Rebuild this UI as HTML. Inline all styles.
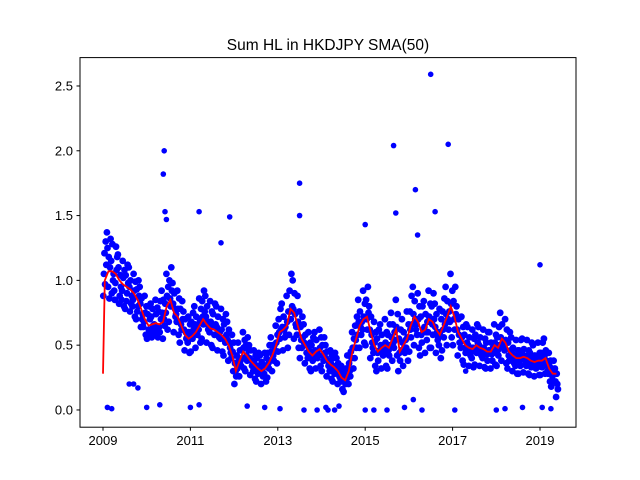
<!DOCTYPE html>
<html><head><meta charset="utf-8"><style>
html,body{margin:0;padding:0;background:#fff;}
svg{display:block;font-family:"Liberation Sans","DejaVu Sans",sans-serif;}
</style></head><body>
<svg id="chart" width="640" height="480">
<rect width="640" height="480" fill="#fff"/>
<text x="328" y="50" text-anchor="middle" font-size="15.5">Sum HL in HKDJPY SMA(50)</text>
<g id="plot"></g>
</svg>
<script>
const startYear = 2009;
const xTicks = [2009, 2011, 2013, 2015, 2017, 2019];
const yTicks = [0.0, 0.5, 1.0, 1.5, 2.0, 2.5];
const smaStart = 0.28;
const smaValues = [1.0,1.07,1.07,1.05,1.0,0.97,0.95,0.93,0.9,0.85,0.78,0.7,
0.65,0.66,0.67,0.66,0.68,0.8,0.85,0.75,0.72,0.65,0.58,0.55,
0.57,0.6,0.65,0.7,0.66,0.63,0.62,0.6,0.58,0.55,0.5,0.42,
0.3,0.38,0.45,0.42,0.38,0.35,0.32,0.3,0.32,0.36,0.42,0.5,
0.6,0.62,0.65,0.78,0.75,0.65,0.55,0.5,0.45,0.42,0.45,0.47,
0.43,0.38,0.35,0.33,0.3,0.25,0.23,0.3,0.45,0.55,0.65,0.7,
0.72,0.6,0.5,0.45,0.48,0.5,0.48,0.55,0.62,0.45,0.5,0.55,
0.65,0.72,0.68,0.6,0.62,0.7,0.68,0.62,0.58,0.65,0.72,0.8,
0.72,0.6,0.55,0.5,0.48,0.47,0.5,0.48,0.47,0.45,0.45,0.5,
0.48,0.55,0.52,0.45,0.42,0.4,0.4,0.41,0.4,0.38,0.37,0.38,
0.38,0.4,0.32,0.28,0.28];
const monthlyPoints = [
[88,112,130,97,121,105],[95,125,137,110,86,118],[100,128,90,115,132,105],[92,118,108,126,98,85],[82,110,120,95,104,88],[80,102,115,92,85,108],[78,98,112,90,84,104],[76,95,110,88,82,100],[72,92,105,85,80,99],[70,88,100,80,76,93],[64,82,95,74,70,86],[58,75,88,68,64,80],
[55,70,80,62,58,74],[56,72,82,60,65,78],[58,74,85,62,66,79],[56,70,84,60,64,76],[55,75,92,65,70,85],[62,88,105,75,82,95],[68,92,110,80,86,100],[60,82,98,72,78,90],[58,78,92,68,74,86],[52,70,84,62,66,78],[46,62,76,55,60,70],[44,60,72,52,56,66],
[45,62,75,55,58,68],[48,66,80,58,62,72],[52,70,86,62,66,78],[55,76,92,66,72,84],[52,72,88,62,68,80],[50,68,84,60,64,76],[48,66,82,58,64,74],[46,64,80,56,62,72],[45,62,78,55,60,70],[42,58,74,52,56,66],[38,54,68,48,52,62],[30,45,58,40,44,52],
[20,32,42,26,30,36],[26,40,52,34,38,46],[32,48,60,40,46,54],[30,46,56,38,42,50],[27,40,50,34,38,46],[24,36,46,30,34,42],[22,34,44,28,32,40],[20,32,42,26,30,37],[22,34,44,28,33,40],[25,38,50,32,36,44],[30,45,56,38,42,50],[36,52,65,46,50,58],
[45,62,78,55,60,70],[46,64,82,56,62,72],[48,68,88,58,64,76],[58,80,105,70,76,92],[55,78,100,66,74,90],[48,68,88,58,64,76],[40,56,72,48,54,64],[36,52,66,44,50,58],[32,46,60,40,44,52],[30,44,56,38,42,50],[32,46,60,40,44,54],[34,48,62,42,46,56],
[30,44,56,38,42,50],[26,40,50,34,38,45],[24,36,46,30,34,42],[22,34,44,28,32,40],[20,30,40,26,30,36],[16,26,34,22,25,30],[14,24,32,20,23,28],[20,32,42,26,30,36],[32,48,60,40,45,55],[40,58,72,48,54,65],[48,68,85,58,64,76],[52,72,92,62,68,82],
[50,75,95,62,70,85],[40,62,80,52,58,72],[34,52,68,44,48,60],[30,46,62,38,44,55],[32,50,66,42,46,58],[34,52,70,44,48,60],[32,50,66,42,46,58],[38,56,75,48,52,66],[42,64,85,54,60,74],[30,46,62,38,44,55],[34,52,70,44,48,60],[38,56,76,48,54,66],
[45,66,88,56,62,76],[50,74,95,62,70,84],[48,70,90,58,66,80],[42,62,80,52,58,72],[44,64,84,54,60,74],[48,72,92,60,68,82],[48,70,90,58,66,80],[44,64,82,54,60,74],[40,60,78,50,56,70],[46,66,86,56,62,76],[50,74,95,62,70,84],[56,82,105,68,76,92],
[50,74,95,62,70,84],[42,62,80,52,58,70],[38,56,72,48,52,64],[35,52,66,44,48,58],[34,50,64,42,46,56],[33,48,62,40,45,55],[35,52,66,44,48,58],[34,50,64,42,46,56],[33,48,62,40,45,55],[32,46,60,38,43,52],[32,46,60,38,43,52],[35,52,66,44,48,58],
[34,50,64,42,46,56],[38,56,75,48,52,66],[36,54,70,46,50,62],[32,46,60,38,42,52],[30,44,56,36,40,48],[28,42,54,34,38,46],[28,42,54,34,38,46],[29,43,55,35,39,47],[28,42,54,34,38,46],[27,40,52,33,36,44],[26,38,50,32,35,42],[27,40,52,33,36,44],
[27,40,52,33,36,44],[28,42,55,34,38,46],[22,34,44,28,30,38],[18,28,38,22,26,32],[10,22,32,16,20,28]];
const outlierDates = [2009.1,2009.2,2009.7,2009.8,2010.0,2010.4,2010.38,2010.42,2010.45,2011.0,2011.2,2011.2,2011.7,2011.9,2012.7,2013.05,2013.5,2013.5,2013.6,2013.9,2014.1,2014.4,2015.0,2015.0,2015.2,2015.7,2015.65,2015.9,2016.15,2016.2,2016.5,2016.6,2016.9,2017.05,2017.3,2018.0,2018.2,2019.0,2019.05,2019.25,2018.6,2015.5,2016.1,2016.3,2012.3,2014.3,2014.15,2009.6,2010.3];
const outlierValues = [0.02,0.01,0.2,0.17,0.02,2.0,1.82,1.53,1.47,0.02,1.53,0.04,1.29,1.49,0.02,0.01,1.75,1.5,0.0,0.0,0.02,0.03,1.43,0.0,0.0,1.52,2.04,0.02,1.7,1.35,2.59,1.53,2.05,0.0,0.3,0.0,0.01,1.12,0.02,0.01,0.02,0.0,0.08,0.0,0.03,0.0,0.0,0.2,0.04];

const L=80,R=576,T=57.6,B=427.2;
const xMin=2008.474,xMax=2019.824,yMin=-0.133,yMax=2.719;
const xs=v=>L+(v-xMin)/(xMax-xMin)*(R-L);
const ys=v=>B-(v-yMin)/(yMax-yMin)*(B-T);
const NS="http://www.w3.org/2000/svg";
const plot=document.getElementById('plot');
function mk(tag,attrs,parent){const e=document.createElementNS(NS,tag);for(const k in attrs)e.setAttribute(k,attrs[k]);(parent||plot).appendChild(e);return e;}

const dots=mk('g',{fill:'#0000ff'});


monthlyPoints.forEach((vals,m)=>{
  const n=vals.length;
  vals.forEach((v,i)=>{
    const slot=((i*5+m*2)%n+0.5)/n;
    const d=startYear+(m+slot)/12;
    const c=mk('circle',{cx:xs(d).toFixed(1),cy:ys(v/100).toFixed(1),r:3.4},dots);
    
    
  });
});
outlierDates.forEach((d,i)=>{
  const c=mk('circle',{cx:xs(d).toFixed(1),cy:ys(outlierValues[i]).toFixed(1),r:2.8},dots);
  
  
});

let pts=[[xs(startYear),ys(smaStart)]];
smaValues.forEach((v,m)=>pts.push([xs(startYear+(m+0.5)/12),ys(v)]));
const line=mk('polyline',{points:pts.map(p=>p[0].toFixed(1)+','+p[1].toFixed(1)).join(' '),fill:'none',stroke:'#ff0000','stroke-width':1.8});



const frame=mk('rect',{x:L,y:T,width:R-L,height:B-T,fill:'none',stroke:'#000','stroke-width':1});



xTicks.forEach(t=>{
  const x=xs(t);
  const tk=mk('line',{x1:x,x2:x,y1:B,y2:B+3.5,stroke:'#000'});
  
  
  const lb=mk('text',{x:x,y:B+18,'text-anchor':'middle','font-size':13});
  lb.textContent=t;
  
  
});
yTicks.forEach(t=>{
  const y=ys(t);
  const tk=mk('line',{x1:L-3.5,x2:L,y1:y,y2:y,stroke:'#000'});
  
  
  const lb=mk('text',{x:L-7,y:y+4.5,'text-anchor':'end','font-size':13});
  lb.textContent=t.toFixed(1);
  
  
});
</script>
</body></html>
